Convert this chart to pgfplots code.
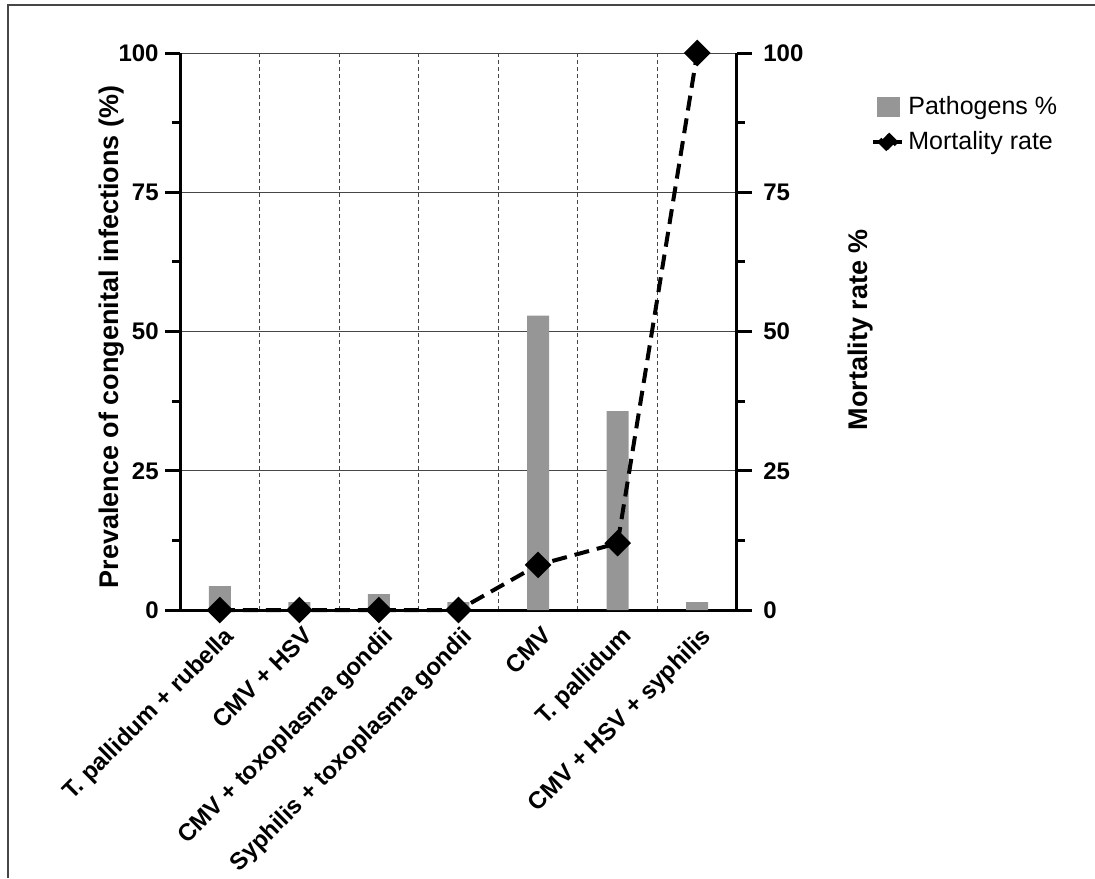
\documentclass[border=0pt]{standalone}
\usepackage{fontspec}
\setmainfont{Liberation Sans}
\usepackage{pgfplots}
\pgfplotsset{compat=1.18}
\definecolor{barcol}{RGB}{150,150,150}
\definecolor{gridcol}{RGB}{70,70,70}
\begin{document}
\begin{tikzpicture}
\path[use as bounding box] (0,0) rectangle (547.5pt,-439pt);
\draw[color=gridcol, line width=0.8pt] (4pt,-439pt) -- (4pt,-2.5pt) -- (547.5pt,-2.5pt);
\pgfplotsset{common/.style={
  scale only axis, width=278.5pt, height=278.5pt,
  at={(90pt,-305pt)}, anchor=south west,
  xmin=-0.5, xmax=6.5, ymin=0, ymax=100,
  ytick={0,25,50,75,100}, minor y tick num=1,
  tick align=outside,
  major tick length=7.5pt, minor tick length=4pt,
  axis line style={line width=1.5pt},
  every tick/.style={line width=1.5pt, black},
  /pgf/number format/assume math mode=true,
  tick label style={font=\fontsize{12}{14}\selectfont\bfseries},
  label style={font=\fontsize{13.5}{16}\selectfont\bfseries},
}}
\begin{axis}[common, axis x line*=bottom, axis y line*=left,
  xtick={0,...,6},
  xticklabels={T. pallidum + rubella, CMV + HSV, CMV + toxoplasma gondii, Syphilis + toxoplasma gondii, CMV, T. pallidum, CMV + HSV + syphilis},
  x tick style={draw=none}, minor x tick style={draw=none},
  xticklabel style={rotate=45, anchor=north east, inner sep=1pt, xshift=2pt},
  yticklabel style={inner xsep=3pt},
  minor xtick={0.5,1.5,...,5.5}, xminorgrids,
  minor x grid style={gridcol, line width=0.4pt, dash pattern=on 2pt off 1.5pt},
  ymajorgrids, y grid style={gridcol, line width=0.5pt},
  ylabel={Prevalence of congenital infections (\%)},
  ylabel style={at={(rel axis cs:-0.122,0.49)}, anchor=center},
  ybar, bar width=11pt]
\addplot[fill=barcol, draw=none] coordinates {(0,4.29) (1,1.43) (2,2.86) (3,1.43) (4,52.86) (5,35.71) (6,1.43)};
\end{axis}
\begin{axis}[common, axis y line*=right, axis x line=none, xtick=\empty,
  yticklabel style={inner xsep=5.5pt},
  ylabel={Mortality rate \%},
  ylabel style={at={(rel axis cs:1.2226,0.503)}, anchor=center},
  clip=false,
  legend style={at={(1.2406,0.93)}, anchor=north west, draw=none, fill=none, inner sep=0pt,
    font=\fontsize{12.5}{15}\selectfont, row sep=3pt},
  legend cell align=left]
\addlegendimage{legend image code/.code={\fill[barcol] (1.75pt,-4.75pt) rectangle (12.75pt,4.75pt);}}
\addlegendentry{Pathogens \%}
\addplot[black, line width=2pt, dash pattern=on 7.5pt off 4pt, mark=square*, mark size=3.7pt,
  mark options={solid, rotate=45},
  legend image code/.code={\draw[black, line width=2pt, solid] (0pt,0pt) -- (14.5pt,0pt);
    \fill[black] (7.25pt,4pt) -- (11.25pt,0pt) -- (7.25pt,-4pt) -- (3.25pt,0pt) -- cycle;}]
  coordinates {(0,0) (1,0) (2,0) (3,0) (4,8.1) (5,12) (6,100)};
\addlegendentry{Mortality rate}
\end{axis}
\end{tikzpicture}
\end{document}
